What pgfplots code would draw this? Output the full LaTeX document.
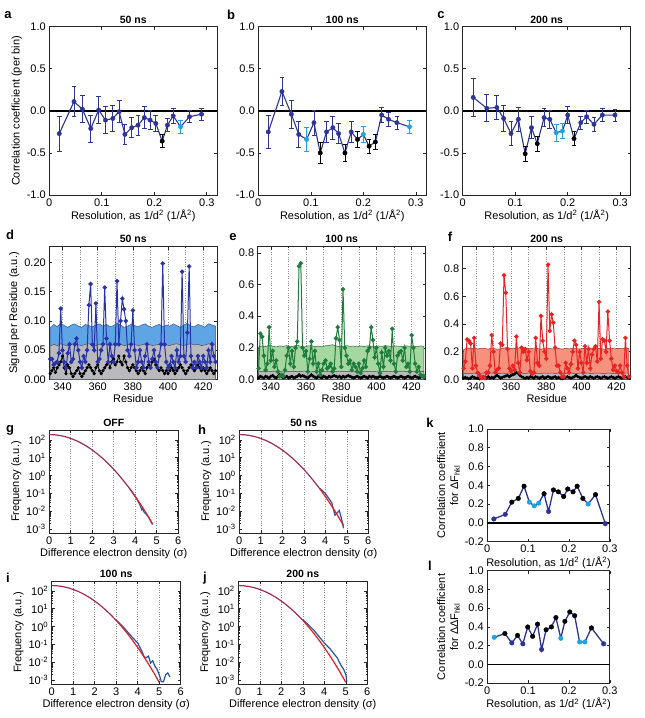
\documentclass[border=0pt]{standalone}
\usepackage{fontspec}
\setmainfont{Liberation Sans}
\usepackage{pgfplots}
\usepackage{pgfplotstable}
\pgfplotsset{compat=1.18}

\definecolor{mblue}{RGB}{44,52,150}
\definecolor{mcyan}{RGB}{30,165,225}
\definecolor{dsig}{RGB}{40,50,170}
\definecolor{dband}{RGB}{95,165,230}
\definecolor{dbandl}{RGB}{40,90,160}
\definecolor{esig}{RGB}{30,125,60}
\definecolor{eband}{RGB}{165,215,160}
\definecolor{ebandl}{RGB}{40,110,50}
\definecolor{fsig}{RGB}{235,35,35}
\definecolor{fband}{RGB}{245,145,125}
\definecolor{fbandl}{RGB}{150,50,40}
\definecolor{gband}{RGB}{185,185,190}
\definecolor{cred}{RGB}{225,30,35}
\definecolor{cblue}{RGB}{35,85,170}
\definecolor{cmaroon}{RGB}{160,45,85}

\pgfplotsset{
  only/.style={restrict expr to domain={\thisrow{c}}{#1:#1}},
  base/.style={scale only axis, anchor=north west,
    axis line style={line width=0.7pt, black!85},
    every tick/.style={black!85, line width=0.6pt},
    major tick length=3pt, minor tick length=1.6pt, tick align=inside,
    ticklabel style={font=\fontsize{11}{13}\selectfont},
    label style={font=\fontsize{11}{13}\selectfont},
    title style={font=\bfseries\fontsize{10.5}{12}\selectfont, at={(0.5,1)}, anchor=south, yshift=-6pt},
    /pgf/number format/assume math mode=true,
    xlabel style={yshift=3pt}, ylabel style={yshift=-2pt}},
  corr/.style={base, width=168pt, height=168.3pt, xmin=0, xmax=0.32, ymin=-1, ymax=1,
    xtick={0,0.1,0.2,0.3}, xticklabels={0,0.1,0.2,0.3},
    ytick={-1,-0.5,0,0.5,1}, yticklabels={-1.0,-0.5,0.0,0.5,1.0},
    xlabel={Resolution, as 1/d\textsuperscript{2} (1/Å\textsuperscript{2})}},
  res/.style={base, width=168pt, height=133pt, xmin=332.5, xmax=428, ymin=0,
    xtick={340,360,380,400,420}, minor xtick={350,370,390,410},
    xmajorgrids, xminorgrids,
    major grid style={dotted, black!45, line width=0.6pt},
    minor grid style={dotted, black!45, line width=0.6pt},
    xlabel={Residue}},
  dens/.style={base, width=129pt, height=103pt, xmin=0, xmax=6, ymin=6e-4, ymax=360,
    xtick={0,1,2,3,4,5,6}, minor xtick={},
    xmajorgrids, major grid style={dotted, black!45, line width=0.6pt},
    ytick={1e-3,1e-2,1e-1,1,10,100},
    yticklabels={10\textsuperscript{-3},10\textsuperscript{-2},10\textsuperscript{-1},10\textsuperscript{0},10\textsuperscript{1},10\textsuperscript{2}},
    xlabel={Difference electron density (σ)}, ylabel={Frequency (a.u.)}},
  cc/.style={base, width=122.5pt, height=112.5pt, xmin=0, xmax=0.3, ymin=-0.2, ymax=1.0,
    xtick={0,0.1,0.2,0.3}, xticklabels={0,0.1,0.2,0.3},
    ytick={-0.2,0,0.2,0.4,0.6,0.8,1.0}, yticklabels={-0.2,0.0,0.2,0.4,0.6,0.8,1.0},
    xlabel={Resolution, as 1/d\textsuperscript{2} (1/Å\textsuperscript{2})},
    ylabel style={align=center}},
  errb/.style={only marks, mark=*, mark size=2.2pt,
    error bars/y dir=both, error bars/y explicit,
    error bars/error bar style={line width=0.8pt},
    error bars/error mark options={rotate=90, mark size=2.4pt, line width=0.8pt}},
  dots/.style={only marks, mark=*, mark size=2.3pt},
}

\pgfplotstableread{
x y e c
0.019 -0.27 0.21 0
0.047 0.11 0.18 0
0.063 0.02 0.16 0
0.079 -0.21 0.16 0
0.094 0.01 0.16 0
0.107 -0.11 0.16 0
0.121 -0.09 0.16 0
0.133 -0.01 0.13 0
0.144 -0.28 0.12 0
0.157 -0.20 0.12 0
0.169 -0.17 0.12 0
0.181 -0.08 0.13 0
0.192 -0.11 0.11 0
0.203 -0.15 0.10 0
0.215 -0.36 0.08 2
0.225 -0.17 0.08 0
0.236 -0.06 0.09 0
0.250 -0.19 0.08 1
0.267 -0.07 0.07 0
0.290 -0.04 0.07 0
}\ta

\pgfplotstableread{
x y e c
0.019 -0.25 0.20 0
0.045 0.23 0.17 0
0.063 -0.04 0.17 0
0.077 -0.28 0.15 0
0.092 -0.34 0.14 1
0.106 -0.14 0.15 0
0.118 -0.50 0.12 2
0.130 -0.25 0.12 0
0.142 -0.20 0.14 0
0.153 -0.27 0.12 0
0.165 -0.50 0.10 2
0.177 -0.25 0.12 0
0.189 -0.34 0.10 2
0.200 -0.28 0.10 1
0.211 -0.42 0.08 2
0.223 -0.37 0.09 2
0.235 -0.05 0.09 0
0.248 -0.10 0.08 0
0.264 -0.14 0.08 0
0.288 -0.19 0.08 1
}\tb

\pgfplotstableread{
x y e c
0.020 0.16 0.22 0
0.046 0.03 0.16 0
0.065 0.04 0.14 0
0.078 -0.09 0.15 0
0.092 -0.27 0.14 0
0.106 -0.10 0.14 0
0.119 -0.51 0.09 2
0.131 -0.20 0.13 0
0.142 -0.39 0.09 2
0.155 -0.08 0.11 0
0.166 -0.10 0.11 0
0.178 -0.26 0.10 1
0.190 -0.24 0.09 1
0.200 -0.05 0.10 0
0.212 -0.33 0.08 2
0.225 -0.14 0.08 0
0.236 -0.07 0.08 0
0.250 -0.16 0.08 0
0.266 -0.05 0.08 0
0.290 -0.05 0.07 0
}\tc

\pgfplotstableread{
r ds do es eo fs fo
333 0.035 0.010 0.07 0.010 0.08 0.010
334 0.035 0.015 0.29 0.020 0.13 0.015
335 0.025 0.020 0.27 0.015 0.29 0.010
336 0.028 0.012 0.15 0.010 0.28 0.005
337 0.030 0.020 0.06 0.020 0.26 0.010
338 0.045 0.025 0.10 0.015 0.08 0.020
339 0.121 0.030 0.33 0.010 0.30 0.015
340 0.050 0.040 0.12 0.020 0.10 0.010
341 0.030 0.020 0.18 0.025 0.05 0.010
342 0.020 0.010 0.08 0.015 0.03 0.005
343 0.045 0.025 0.12 0.010 0.01 0.010
344 0.060 0.020 0.05 0.020 0.02 0.020
345 0.030 0.010 0.02 0.030 0.01 0.015
346 0.035 0.005 0.03 0.020 0.05 0.010
347 0.060 0.010 0.02 0.010 0.05 0.020
348 0.070 0.015 0.06 0.015 0.10 0.010
349 0.050 0.020 0.15 0.020 0.32 0.015
350 0.030 0.010 0.20 0.010 0.20 0.010
351 0.020 0.005 0.10 0.015 0.05 0.020
352 0.040 0.010 0.18 0.020 0.07 0.030
353 0.030 0.015 0.08 0.010 0.08 0.020
354 0.050 0.020 0.20 0.015 0.26 0.010
355 0.127 0.025 0.24 0.020 0.25 0.015
356 0.163 0.020 0.715 0.030 0.752 0.020
357 0.060 0.015 0.734 0.020 0.626 0.025
358 0.050 0.010 0.20 0.025 0.22 0.030
359 0.130 0.020 0.15 0.020 0.08 0.020
360 0.030 0.025 0.18 0.015 0.06 0.030
361 0.035 0.015 0.05 0.010 0.10 0.035
362 0.050 0.010 0.13 0.020 0.07 0.040
363 0.060 0.015 0.24 0.030 0.31 0.050
364 0.157 0.020 0.10 0.020 0.12 0.045
365 0.070 0.025 0.18 0.015 0.05 0.030
366 0.030 0.030 0.05 0.010 0.23 0.020
367 0.060 0.020 0.10 0.020 0.20 0.015
368 0.040 0.030 0.03 0.015 0.22 0.010
369 0.030 0.035 0.06 0.010 0.14 0.015
370 0.060 0.025 0.10 0.020 0.20 0.010
371 0.168 0.030 0.12 0.015 0.06 0.020
372 0.060 0.040 0.07 0.010 0.04 0.015
373 0.100 0.030 0.08 0.020 0.05 0.010
374 0.138 0.025 0.10 0.015 0.30 0.020
375 0.120 0.040 0.05 0.020 0.12 0.015
376 0.100 0.030 0.07 0.025 0.10 0.010
377 0.050 0.020 0.26 0.020 0.459 0.015
378 0.040 0.015 0.33 0.015 0.28 0.020
379 0.060 0.020 0.25 0.020 0.20 0.010
380 0.118 0.025 0.08 0.010 0.15 0.015
381 0.050 0.020 0.57 0.020 0.829 0.020
382 0.020 0.015 0.20 0.015 0.35 0.015
383 0.030 0.010 0.15 0.020 0.47 0.010
384 0.050 0.015 0.10 0.025 0.41 0.015
385 0.030 0.020 0.12 0.020 0.23 0.020
386 0.020 0.015 0.06 0.015 0.10 0.010
387 0.040 0.010 0.10 0.010 0.10 0.015
388 0.060 0.020 0.08 0.015 0.05 0.010
389 0.030 0.025 0.05 0.020 0.02 0.005
390 0.020 0.020 0.10 0.015 0.02 0.010
391 0.035 0.030 0.04 0.010 0.12 0.015
392 0.050 0.035 0.07 0.015 0.08 0.020
393 0.030 0.025 0.12 0.020 0.05 0.015
394 0.020 0.020 0.08 0.015 0.11 0.010
395 0.040 0.015 0.18 0.010 0.20 0.015
396 0.060 0.020 0.20 0.020 0.28 0.020
397 0.198 0.015 0.33 0.015 0.25 0.030
398 0.060 0.010 0.25 0.020 0.08 0.020
399 0.030 0.015 0.14 0.015 0.20 0.015
400 0.020 0.010 0.20 0.010 0.12 0.010
401 0.025 0.015 0.10 0.015 0.05 0.015
402 0.040 0.020 0.04 0.020 0.24 0.020
403 0.030 0.015 0.17 0.015 0.12 0.015
404 0.020 0.010 0.08 0.010 0.22 0.010
405 0.050 0.015 0.20 0.015 0.08 0.020
406 0.030 0.020 0.15 0.020 0.18 0.015
407 0.040 0.025 0.18 0.015 0.22 0.010
408 0.184 0.020 0.12 0.010 0.24 0.015
409 0.040 0.015 0.32 0.015 0.13 0.020
410 0.030 0.010 0.10 0.020 0.56 0.015
411 0.080 0.015 0.05 0.015 0.15 0.010
412 0.193 0.020 0.15 0.010 0.29 0.015
413 0.040 0.025 0.17 0.015 0.28 0.020
414 0.020 0.020 0.18 0.020 0.20 0.015
415 0.030 0.015 0.12 0.015 0.49 0.010
416 0.020 0.020 0.20 0.010 0.28 0.015
417 0.040 0.025 0.08 0.015 0.15 0.020
418 0.030 0.020 0.10 0.020 0.07 0.015
419 0.020 0.015 0.05 0.015 0.10 0.010
420 0.040 0.020 0.28 0.010 0.06 0.015
421 0.030 0.015 0.20 0.015 0.05 0.020
422 0.020 0.010 0.10 0.020 0.10 0.015
423 0.050 0.015 0.05 0.015 0.05 0.010
424 0.030 0.020 0.08 0.010 0.02 0.015
425 0.060 0.015 0.03 0.015 0.30 0.020
426 0.040 0.010 0.02 0.020 0.10 0.015
427 0.030 0.015 0.02 0.015 0.02 0.010
}\sig

\pgfplotstableread{
r dg db eg eb fg fb
333 0.057 0.088 0.048 0.205 0.042 0.215
335 0.060 0.094 0.052 0.212 0.045 0.228
337 0.058 0.090 0.050 0.208 0.044 0.222
339 0.061 0.096 0.049 0.215 0.046 0.225
341 0.059 0.092 0.051 0.210 0.043 0.220
343 0.057 0.089 0.053 0.206 0.045 0.226
345 0.060 0.093 0.050 0.212 0.047 0.224
347 0.062 0.095 0.048 0.209 0.044 0.219
349 0.059 0.091 0.051 0.214 0.046 0.227
351 0.058 0.089 0.050 0.207 0.045 0.221
353 0.060 0.094 0.052 0.211 0.043 0.218
355 0.061 0.092 0.049 0.216 0.046 0.224
357 0.059 0.090 0.051 0.210 0.044 0.230
359 0.058 0.093 0.053 0.205 0.047 0.226
361 0.060 0.095 0.050 0.212 0.045 0.222
363 0.062 0.091 0.048 0.214 0.046 0.225
365 0.060 0.094 0.052 0.208 0.048 0.228
367 0.058 0.090 0.051 0.211 0.044 0.220
369 0.059 0.092 0.049 0.206 0.045 0.223
371 0.061 0.096 0.050 0.213 0.046 0.226
373 0.060 0.093 0.052 0.215 0.043 0.221
375 0.058 0.089 0.051 0.220 0.045 0.224
377 0.059 0.091 0.050 0.212 0.044 0.218
379 0.061 0.094 0.053 0.207 0.046 0.225
381 0.060 0.092 0.049 0.210 0.045 0.227
383 0.058 0.090 0.051 0.214 0.047 0.222
385 0.059 0.093 0.052 0.209 0.044 0.220
387 0.061 0.095 0.050 0.211 0.046 0.224
389 0.060 0.091 0.048 0.206 0.045 0.219
391 0.058 0.089 0.051 0.212 0.043 0.225
393 0.059 0.092 0.052 0.208 0.046 0.221
395 0.060 0.094 0.050 0.213 0.045 0.226
397 0.061 0.090 0.049 0.210 0.044 0.223
399 0.059 0.093 0.051 0.207 0.046 0.220
401 0.058 0.091 0.053 0.212 0.045 0.224
403 0.060 0.095 0.050 0.209 0.047 0.222
405 0.061 0.092 0.051 0.214 0.044 0.227
407 0.059 0.089 0.049 0.211 0.045 0.221
409 0.058 0.093 0.052 0.206 0.046 0.225
411 0.060 0.096 0.050 0.212 0.045 0.223
413 0.061 0.091 0.051 0.210 0.043 0.219
415 0.059 0.090 0.053 0.208 0.046 0.224
417 0.060 0.094 0.050 0.213 0.045 0.226
419 0.058 0.092 0.049 0.209 0.044 0.221
421 0.059 0.089 0.051 0.211 0.046 0.225
423 0.061 0.095 0.052 0.207 0.045 0.222
425 0.060 0.093 0.050 0.212 0.047 0.227
427 0.059 0.091 0.051 0.210 0.045 0.223
}\bands

\pgfplotstableread{
x y c
0.016 0.04 0
0.044 0.09 0
0.060 0.22 2
0.076 0.26 2
0.090 0.39 2
0.103 0.22 1
0.115 0.18 1
0.126 0.21 1
0.139 0.31 2
0.150 0.12 0
0.162 0.35 2
0.174 0.33 2
0.187 0.28 2
0.197 0.36 2
0.210 0.33 2
0.220 0.39 2
0.234 0.26 2
0.247 0.20 1
0.265 0.30 2
0.289 -0.01 0
}\tk

\pgfplotstableread{
x y c
0.017 0.29 1
0.043 0.33 2
0.060 0.23 0
0.074 0.31 2
0.087 0.22 0
0.099 0.40 2
0.111 0.30 2
0.123 0.43 2
0.133 0.16 0
0.144 0.37 2
0.157 0.40 2
0.168 0.50 2
0.180 0.28 1
0.190 0.46 2
0.202 0.56 2
0.214 0.52 2
0.226 0.24 1
0.239 0.24 1
0.255 0.39 2
0.285 0.22 0
}\tl

\begin{document}
\begin{tikzpicture}
\path[use as bounding box] (0pt,0pt) rectangle (645pt,-718pt);
\tikzset{plab/.style={font=\bfseries\fontsize{13}{14}\selectfont, anchor=center}}
\node[plab] at (8pt,-15pt) {a};
\node[plab] at (231pt,-15pt) {b};
\node[plab] at (441pt,-15pt) {c};
\node[plab] at (10pt,-235pt) {d};
\node[plab] at (233pt,-237pt) {e};
\node[plab] at (450pt,-237pt) {f};
\node[plab] at (10pt,-430pt) {g};
\node[plab] at (202pt,-430pt) {h};
\node[plab] at (8pt,-578pt) {i};
\node[plab] at (205pt,-578pt) {j};
\node[plab] at (430pt,-423pt) {k};
\node[plab] at (430pt,-566pt) {l};

% ---------- a ----------
\begin{axis}[corr, at={(49.3pt,-26.7pt)}, title={50 ns}, ylabel={Correlation coefficient (per bin)}]
\addplot[black, line width=1.3pt] coordinates {(0,0) (0.32,0)};
\addplot[mblue, line width=1.1pt, no marks] table[x=x,y=y] {\ta};
\addplot[mblue, errb, only=0] table[x=x,y=y,y error=e] {\ta};
\addplot[mcyan, errb, only=1] table[x=x,y=y,y error=e] {\ta};
\addplot[black, errb, only=2] table[x=x,y=y,y error=e] {\ta};
\end{axis}
% ---------- b ----------
\begin{axis}[corr, at={(258.3pt,-26.7pt)}, title={100 ns}]
\addplot[black, line width=1.3pt] coordinates {(0,0) (0.32,0)};
\addplot[mblue, line width=1.1pt, no marks] table[x=x,y=y] {\tb};
\addplot[mblue, errb, only=0] table[x=x,y=y,y error=e] {\tb};
\addplot[mcyan, errb, only=1] table[x=x,y=y,y error=e] {\tb};
\addplot[black, errb, only=2] table[x=x,y=y,y error=e] {\tb};
\end{axis}
% ---------- c ----------
\begin{axis}[corr, at={(462.7pt,-26.7pt)}, title={200 ns}]
\addplot[black, line width=1.3pt] coordinates {(0,0) (0.32,0)};
\addplot[mblue, line width=1.1pt, no marks] table[x=x,y=y] {\tc};
\addplot[mblue, errb, only=0] table[x=x,y=y,y error=e] {\tc};
\addplot[mcyan, errb, only=1] table[x=x,y=y,y error=e] {\tc};
\addplot[black, errb, only=2] table[x=x,y=y,y error=e] {\tc};
\end{axis}

% ---------- d ----------
\begin{axis}[res, at={(49.3pt,-246.5pt)}, title={50 ns}, ymax=0.227,
  ytick={0,0.05,0.1,0.15,0.2}, yticklabels={0.00,0.05,0.10,0.15,0.20},
  ylabel={Signal per Residue (a.u.)}]
\addplot[fill=dband, draw=dbandl, line width=0.5pt] table[x=r,y=db] {\bands} \closedcycle;
\addplot[fill=gband, draw=black!70, line width=0.5pt] table[x=r,y=dg] {\bands} \closedcycle;
\addplot[black, line width=0.8pt, mark=*, mark size=1.2pt] table[x=r,y=do] {\sig};
\addplot[dsig, line width=1pt, mark=*, mark size=1.7pt] table[x=r,y=ds] {\sig};
\end{axis}
% ---------- e ----------
\begin{axis}[res, at={(257.7pt,-246.5pt)}, title={100 ns}, ymax=0.84,
  ytick={0,0.2,0.4,0.6,0.8}, yticklabels={0.0,0.2,0.4,0.6,0.8}]
\addplot[fill=eband, draw=ebandl, line width=0.5pt] table[x=r,y=eb] {\bands} \closedcycle;
\addplot[fill=gband, draw=black!70, line width=0.5pt] table[x=r,y=eg] {\bands} \closedcycle;
\addplot[black, line width=0.8pt, mark=*, mark size=1.2pt] table[x=r,y=eo] {\sig};
\addplot[esig, line width=1pt, mark=*, mark size=1.7pt] table[x=r,y=es] {\sig};
\end{axis}
% ---------- f ----------
\begin{axis}[res, at={(462.7pt,-246.5pt)}, title={200 ns}, ymax=0.96,
  ytick={0,0.2,0.4,0.6,0.8}, yticklabels={0.0,0.2,0.4,0.6,0.8}]
\addplot[fill=fband, draw=fbandl, line width=0.5pt] table[x=r,y=fb] {\bands} \closedcycle;
\addplot[fill=gband, draw=black!70, line width=0.5pt] table[x=r,y=fg] {\bands} \closedcycle;
\addplot[black, line width=0.8pt, mark=*, mark size=1.2pt] table[x=r,y=fo] {\sig};
\addplot[fsig, line width=1pt, mark=*, mark size=1.7pt] table[x=r,y=fs] {\sig};
\end{axis}

% ---------- g ----------
\begin{axis}[ymode=log, dens, at={(49.3pt,-430pt)}, title={OFF}]
\addplot[cblue, line width=1.2pt] coordinates {(4.0,0.067) (4.1,0.042) (4.2,0.025) (4.25,0.018) (4.3,0.012) (4.35,0.014) (4.4,0.009) (4.5,0.007) (4.6,0.005) (4.7,0.003) (4.8,0.0018)};
\addplot[cred, line width=1.2pt] coordinates {(3.75,0.177) (4.0,0.0671) (4.25,0.0240) (4.5,0.00804) (4.75,0.00254) (4.8,0.00199)};
\addplot[cmaroon, line width=1.2pt] coordinates {(0,200) (0.25,193.8) (0.5,176.5) (0.75,151.0) (1.0,121.3) (1.25,91.6) (1.5,64.9) (1.75,43.3) (2.0,27.1) (2.25,15.9) (2.5,8.79) (2.75,4.56) (3.0,2.22) (3.25,1.017) (3.5,0.437) (3.75,0.177) (4.0,0.0671)};
\end{axis}
% ---------- h ----------
\begin{axis}[ymode=log, dens, at={(239.3pt,-430pt)}, title={50 ns}]
\addplot[cblue, line width=1.2pt] coordinates {(3.75,0.19) (4.0,0.10) (4.2,0.045) (4.3,0.03) (4.4,0.01) (4.45,0.006) (4.55,0.008) (4.65,0.011) (4.75,0.004) (4.85,0.0011)};
\addplot[cred, line width=1.2pt] coordinates {(3.75,0.177) (4.0,0.0671) (4.25,0.0240) (4.5,0.00804) (4.75,0.00254) (4.85,0.00156)};
\addplot[cmaroon, line width=1.2pt] coordinates {(0,200) (0.25,193.8) (0.5,176.5) (0.75,151.0) (1.0,121.3) (1.25,91.6) (1.5,64.9) (1.75,43.3) (2.0,27.1) (2.25,15.9) (2.5,8.79) (2.75,4.56) (3.0,2.22) (3.25,1.017) (3.5,0.437) (3.75,0.177)};
\end{axis}
% ---------- i ----------
\begin{axis}[ymode=log, dens, at={(51.7pt,-581pt)}, title={100 ns}]
\addplot[cblue, line width=1.2pt] coordinates {(3.0,2.3) (3.25,1.2) (3.5,0.55) (3.75,0.25) (4.0,0.12) (4.2,0.04) (4.3,0.02) (4.4,0.018) (4.5,0.022) (4.6,0.009) (4.7,0.012) (4.8,0.006) (4.9,0.004) (5.0,0.002) (5.1,0.0008) (5.2,0.0008) (5.3,0.002) (5.4,0.0025) (5.5,0.0015)};
\addplot[cred, line width=1.2pt] coordinates {(3.0,2.22) (3.25,1.017) (3.5,0.437) (3.75,0.177) (4.0,0.0671) (4.25,0.0240) (4.5,0.00804) (4.75,0.00254) (5.0,0.00075)};
\addplot[cmaroon, line width=1.2pt] coordinates {(0,200) (0.25,193.8) (0.5,176.5) (0.75,151.0) (1.0,121.3) (1.25,91.6) (1.5,64.9) (1.75,43.3) (2.0,27.1) (2.25,15.9) (2.5,8.79) (2.75,4.56) (3.0,2.22)};
\end{axis}
% ---------- j ----------
\begin{axis}[ymode=log, dens, at={(238.3pt,-581pt)}, title={200 ns}]
\addplot[cblue, line width=1.2pt] coordinates {(3.0,2.4) (3.25,1.3) (3.5,0.65) (3.75,0.28) (4.0,0.12) (4.25,0.06) (4.5,0.025) (4.6,0.018) (4.7,0.01) (4.8,0.006) (4.9,0.004) (5.0,0.002) (5.05,0.0008)};
\addplot[cred, line width=1.2pt] coordinates {(3.0,2.22) (3.25,1.017) (3.5,0.437) (3.75,0.177) (4.0,0.0671) (4.25,0.0240) (4.5,0.00804) (4.75,0.00254) (5.0,0.00075)};
\addplot[cmaroon, line width=1.2pt] coordinates {(0,200) (0.25,193.8) (0.5,176.5) (0.75,151.0) (1.0,121.3) (1.25,91.6) (1.5,64.9) (1.75,43.3) (2.0,27.1) (2.25,15.9) (2.5,8.79) (2.75,4.56) (3.0,2.22)};
\end{axis}

% ---------- k ----------
\begin{axis}[cc, at={(487.3pt,-429pt)}, ylabel={Correlation coefficient\\for ΔF\textsubscript{hkl}}]
\addplot[black, line width=1.5pt] coordinates {(0,0) (0.3,0)};
\addplot[mblue, line width=1.3pt, no marks] table[x=x,y=y] {\tk};
\addplot[mblue, dots, only=0] table[x=x,y=y] {\tk};
\addplot[mcyan, dots, only=1] table[x=x,y=y] {\tk};
\addplot[black, dots, only=2] table[x=x,y=y] {\tk};
\end{axis}
% ---------- l ----------
\begin{axis}[cc, at={(487.3pt,-570.7pt)}, ylabel={Correlation coefficient\\for ΔΔF\textsubscript{hkl}}]
\addplot[black, line width=1.5pt] coordinates {(0,0) (0.3,0)};
\addplot[mblue, line width=1.3pt, no marks] table[x=x,y=y] {\tl};
\addplot[mblue, dots, only=0] table[x=x,y=y] {\tl};
\addplot[mcyan, dots, only=1] table[x=x,y=y] {\tl};
\addplot[black, dots, only=2] table[x=x,y=y] {\tl};
\end{axis}
\end{tikzpicture}
\end{document}
